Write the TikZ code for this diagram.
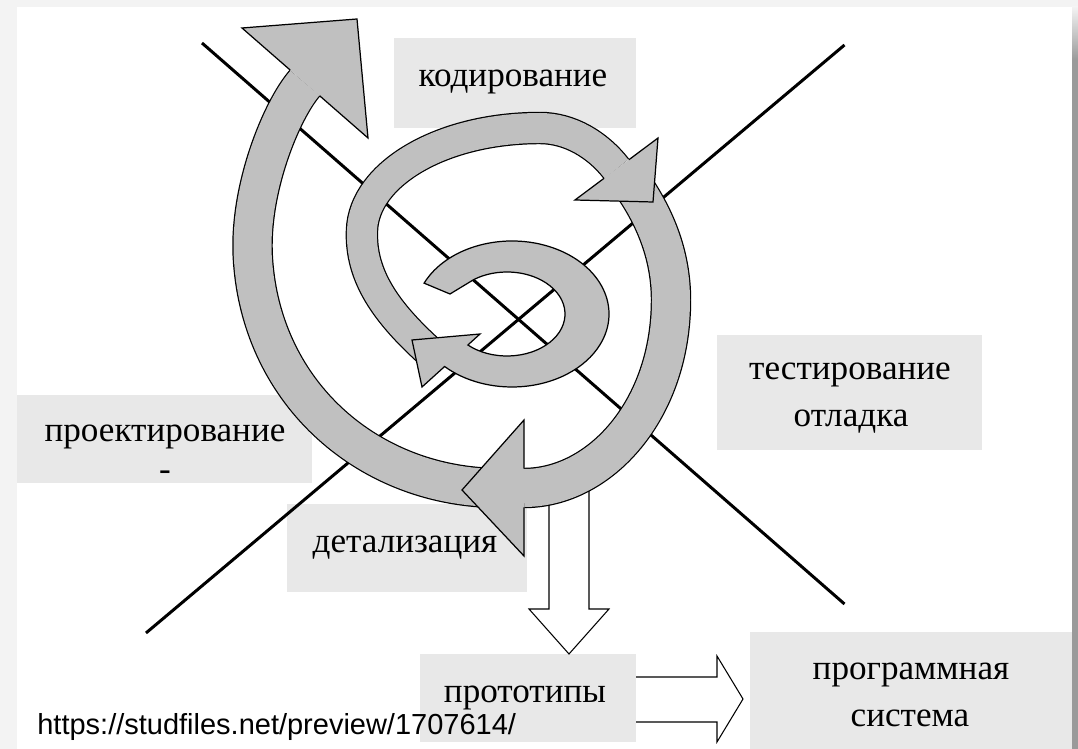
\documentclass[tikz,border=0pt]{standalone}
\usepackage{fontspec}
\setmainfont{Liberation Serif}
\newfontfamily\urlfont{Liberation Sans}
\usetikzlibrary{calc}
\definecolor{ribgray}{HTML}{C0C0C0}
\definecolor{boxgray}{HTML}{E8E8E8}
\definecolor{pagegray}{HTML}{F3F3F3}
\definecolor{shadowgray}{HTML}{9A9A9A}

\begin{document}
\begin{tikzpicture}[x=0.02cm, y=-0.02cm,
    ribbon/.style={draw=black, line width=0.7pt, double=ribgray, double distance=#1},
    edge/.style={draw=black, line width=0.7pt},
    hollow/.style={fill=white, draw=black, line width=0.6pt},
    diag/.style={line width=1.7pt},
    box/.style={fill=boxgray},
    lbl/.style={font=\fontsize{20}{24}\selectfont, anchor=base}
    ]
    \useasboundingbox (0,0) rectangle (1078,749);
    \fill[pagegray] (0,0) rectangle (1078,749);
    \fill[white] (17,7) rectangle (1072,749);
    \shade[top color=pagegray, bottom color=shadowgray] (1072,7) rectangle (1078,60);
    \fill[shadowgray] (1072,60) rectangle (1078,749);

    % label boxes
    \fill[box] (394,38) rectangle (636,128);
    \fill[box] (717,335) rectangle (982,450);
    \fill[box] (17,395) rectangle (312,483);
    \fill[box] (287,504) rectangle (527,592);
    \fill[box] (420,654) rectangle (636,742);
    \fill[box] (750,632) rectangle (1072,749);

    \node[lbl] (kod) at (513,87) {кодирование};
    \node[lbl] (test) at (850,380) {тестирование};
    \node[lbl] (otl) at (851,427) {отладка};
    \node[lbl] (proekt) at (165,442) {проектирование};
    \node[lbl] (dash) at (165,480) {-};
    \node[lbl] (detal) at (405,552) {детализация};
    \node[lbl] (proto) at (525,702) {прототипы};
    \node[lbl] (prog) at (911,679) {программная};
    \node[lbl] (sist) at (910,726) {система};

    % the two axes
    \coordinate (nw) at (202,43);
    \coordinate (se) at (844.5,604);
    \coordinate (sw) at (146,633);
    \coordinate (ne) at (844.5,45);
    \draw[diag] (nw) -- (se);
    \draw[diag] (sw) -- (ne);

    % output arrows
    \filldraw[hollow] (549,480) -- (549,609) -- (529,609) -- (569,654) -- (609,609) -- (589,609) -- (589,480);
    \filldraw[hollow] (636,677) -- (717,677) -- (717,656) -- (743,699) -- (717,742) -- (717,722) -- (636,722);

    % spiral
    \draw[ribbon=0.76cm] (500,488) .. controls (370,488) and (262,395) .. (253,260)
      .. controls (248,190) and (282,109) .. (305,83);
    \draw[ribbon=0.76cm] (636,190) .. controls (657,222) and (671,258) .. (671,300)
      .. controls (671,410) and (600,488) .. (524,488);
    \draw[ribbon=0.6cm] (432,354) .. controls (385,312) and (360,275) .. (362,230)
      .. controls (364,175) and (440,128) .. (540,128)
      .. controls (570,128) and (598,145) .. (616.5,169);

    \coordinate (hC1) at (524,420); \coordinate (hC0) at (462,490); \coordinate (hC2) at (524,556);
    \coordinate (hB1) at (658,138); \coordinate (hB0) at (653,202); \coordinate (hB2) at (575,200);
    \coordinate (hD1) at (242,28);  \coordinate (hD0) at (357,19);  \coordinate (hD2) at (368,138);
    \foreach \h/\w in {C/0.39cm, B/0.31cm, D/0.39cm} {
      \coordinate (m) at ($(h\h1)!0.5!(h\h2)$);
      \fill[ribgray] (h\h1) -- (h\h0) -- (h\h2) -- cycle;
      \draw[edge] ($(m)!\w!(h\h1)$) -- (h\h1) -- (h\h0) -- (h\h2) -- ($(m)!\w!(h\h2)$);
    }

    % inner loop
    \filldraw[edge, fill=ribgray] (512,314) ++(205:97 and 73)
      arc[start angle=205, end angle=494, x radius=97, y radius=73]
      -- (422,387) -- (412,340) -- (480,334) -- ($(507,314)+(132.4:58 and 42)$)
      arc[start angle=132.4, end angle=-125, x radius=58, y radius=42]
      -- (450,294) -- cycle;

    \node[font=\urlfont\fontsize{16.5}{20}\selectfont, anchor=base west, inner sep=0pt] (url) at (37,734) {https://studfiles.net/preview/1707614/};
\end{tikzpicture}
\end{document}
